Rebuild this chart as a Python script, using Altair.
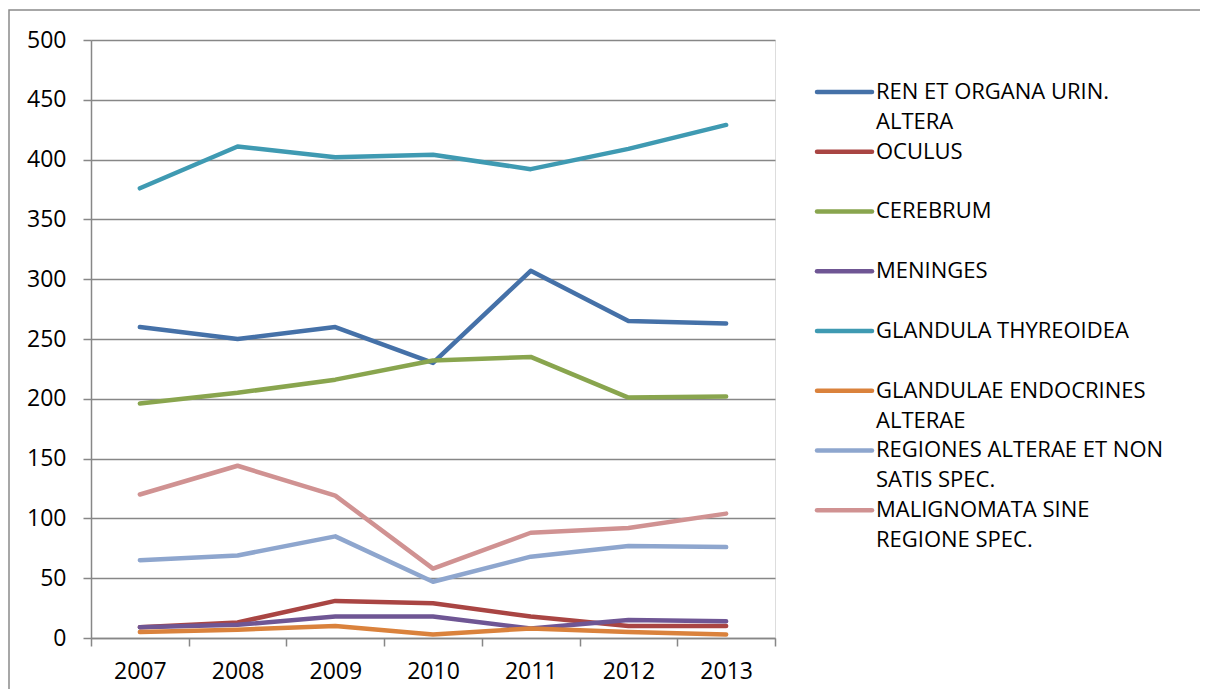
import altair as alt
import pandas as pd

years = ["2007", "2008", "2009", "2010", "2011", "2012", "2013"]
series_names = [
    "REN ET ORGANA URIN. ALTERA",
    "OCULUS",
    "CEREBRUM",
    "MENINGES",
    "GLANDULA THYREOIDEA",
    "GLANDULAE ENDOCRINES ALTERAE",
    "REGIONES ALTERAE ET NON SATIS SPEC.",
    "MALIGNOMATA SINE REGIONE SPEC.",
]
legend_line1 = ["REN ET ORGANA URIN.", "OCULUS", "CEREBRUM", "MENINGES",
                "GLANDULA THYREOIDEA", "GLANDULAE ENDOCRINES", "REGIONES ALTERAE ET NON",
                "MALIGNOMATA SINE"]
legend_line2 = ["ALTERA", "", "", "", "", "ALTERAE", "SATIS SPEC.", "REGIONE SPEC."]

ren = [260, 250, 260, 230, 307, 265, 263]
oculus = [9, 13, 31, 29, 18, 10, 10]
cerebrum = [196, 205, 216, 232, 235, 201, 202]
meninges = [9, 11, 18, 18, 8, 15, 14]
thyreoidea = [376, 411, 402, 404, 392, 409, 429]
endocrines = [5, 7, 10, 3, 8, 5, 3]
regiones = [65, 69, 85, 47, 68, 77, 76]
malignomata = [120, 144, 119, 58, 88, 92, 104]
colors = ["#4571A8", "#A94543", "#89A54E", "#6F5694", "#3F9AB2", "#DA823C", "#8EA6CE", "#D09292"]

all_values = [ren, oculus, cerebrum, meninges, thyreoidea, endocrines, regiones, malignomata]
rows = []
for name, vals in zip(series_names, all_values):
    for y, v in zip(years, vals):
        rows.append({"Year": y, "Value": v, "Series": name})
df = pd.DataFrame(rows)
leg_df = pd.DataFrame({"Series": series_names, "line1": legend_line1, "line2": legend_line2})

FONT = "Open Sans"
GRID = "#878787"
FS = 23
LFS = 22

color_enc = alt.Color("Series:N", sort=series_names,
                      scale=alt.Scale(domain=series_names, range=colors), legend=None)

frame = alt.Chart(pd.DataFrame({"a": [0]})).mark_rect(
    fill=None, stroke="#8a8a8a", strokeWidth=1.5
).encode(
    x=alt.value(-82), x2=alt.value(1110), y=alt.value(-30), y2=alt.value(720)
)

lines = alt.Chart(df).mark_line(strokeWidth=4.5, strokeCap="round", strokeJoin="round").encode(
    x=alt.X("Year:N", sort=years, scale=alt.Scale(paddingInner=0, paddingOuter=0, align=0.5),
            axis=alt.Axis(title=None, labelAngle=0, labelFont=FONT, labelFontSize=FS, labelColor="#000",
                          domainColor=GRID, domainWidth=1.5, tickColor=GRID, tickWidth=1.5,
                          tickSize=8, tickBand="extent", labelPadding=14, grid=False)),
    y=alt.Y("Value:Q", scale=alt.Scale(domain=[0, 500], nice=False),
            axis=alt.Axis(title=None, values=list(range(0, 501, 50)), labelFont=FONT, labelFontSize=FS,
                          labelColor="#000", domainColor=GRID, domainWidth=1.5, tickColor=GRID,
                          tickWidth=1.5, tickSize=8, labelPadding=17, gridColor=GRID, gridWidth=1.5)),
    color=color_enc,
    order=alt.Order("Year:N"),
)

leg_y = alt.Y("Series:N", sort=series_names,
              scale=alt.Scale(domain=series_names, range=[22, 500], paddingInner=0, paddingOuter=0),
              axis=None)

leg_base = alt.Chart(leg_df)
leg_sym = leg_base.mark_rule(strokeWidth=4.5, strokeCap="round").encode(
    x=alt.value(726), x2=alt.value(781), y=leg_y, color=color_enc
)
leg_txt1 = leg_base.mark_text(align="left", baseline="middle", font=FONT, fontSize=LFS,
                              color="#000").encode(x=alt.value(785), y=leg_y, text="line1:N")
leg_txt2 = leg_base.mark_text(align="left", baseline="middle", font=FONT, fontSize=LFS,
                              color="#000", dy=30).encode(x=alt.value(785), y=leg_y, text="line2:N")

legend_layer = alt.layer(leg_sym, leg_txt1, leg_txt2)

chart = alt.layer(frame, lines, legend_layer).resolve_scale(y="independent").properties(
    width=684, height=598,
    padding={"left": 83, "top": 32, "right": 425, "bottom": 51},
    autosize=alt.AutoSizeParams(type="none"),
).configure_view(stroke=None).configure(background="white")

chart.save("out.html", embed_options={"renderer": "svg", "actions": False})
